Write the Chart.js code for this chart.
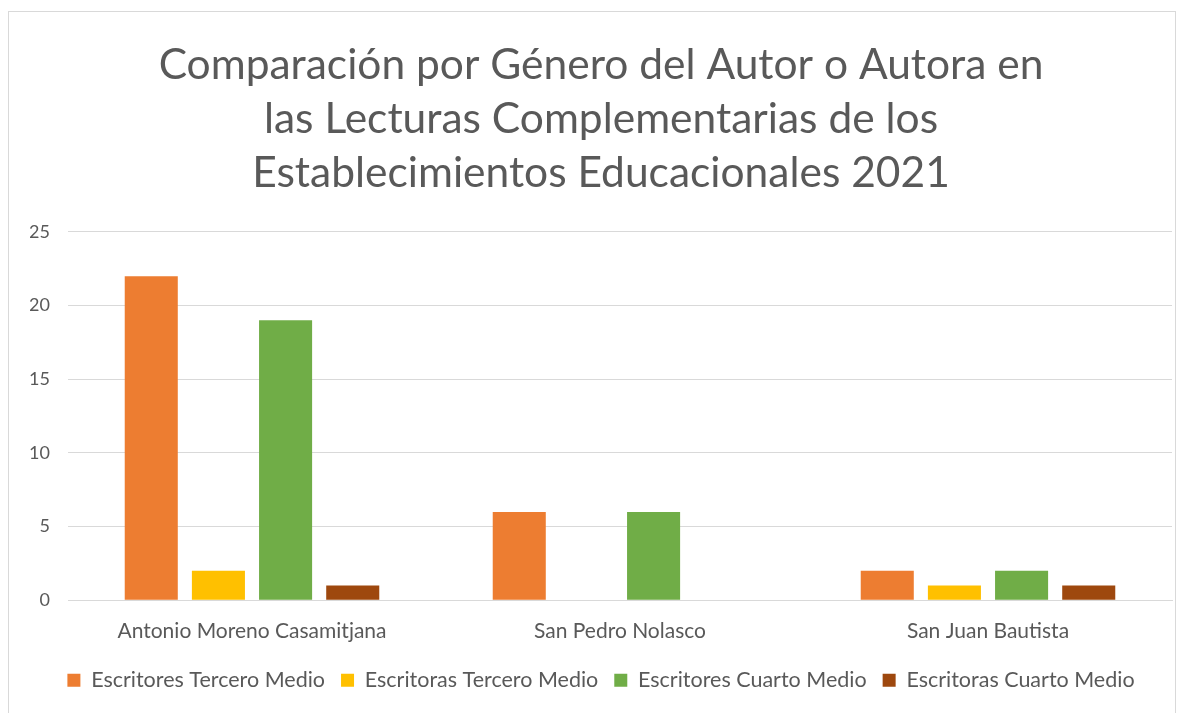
<!DOCTYPE html>
<html>
<head>
<meta charset="utf-8">
<script src="https://cdn.jsdelivr.net/npm/chart.js@4/dist/chart.umd.min.js"></script>
<style>
  html, body { margin: 0; padding: 0; background: #fff; overflow: hidden; }
  #box {
    position: absolute; left: 8px; top: 11px; width: 1168px; height: 710px;
    border: 1px solid #d9d9d9; box-sizing: border-box;
  }
  #canvas { display: block; }
</style>
</head>
<body>
<div id="box"><canvas id="canvas" width="1166" height="708"></canvas></div>
<script>
var schools = ["Antonio Moreno Casamitjana", "San Pedro Nolasco", "San Juan Bautista"];
var escritoresTercero = [22, 6, 2];
var escritorasTercero = [2, 0, 1];
var escritoresCuarto = [19, 6, 2];
var escritorasCuarto = [1, 0, 1];
var yTicks = [0, 5, 10, 15, 20, 25];

var grey = '#595959';
var font = "Lato, 'Open Sans', sans-serif";

function series(label, values, color) {
  return {
    label: label,
    data: values,
    backgroundColor: color,
    borderWidth: 0,
    categoryPercentage: 0.73,
    barPercentage: 0.79
  };
}

var ctx = document.getElementById('canvas');

var chart = new Chart(ctx, {
  type: 'bar',
  data: {
    labels: schools,
    datasets: [
      series('Escritores Tercero Medio', escritoresTercero, '#ED7D31'),
      series('Escritoras Tercero Medio', escritorasTercero, '#FFC000'),
      series('Escritores Cuarto Medio', escritoresCuarto, '#70AD47'),
      series('Escritoras Cuarto Medio', escritorasCuarto, '#9E480E')
    ]
  },
  options: {
    responsive: false,
    animation: false,
    layout: { padding: { left: 21, right: 3, top: 0, bottom: 19 } },
    plugins: {
      title: {
        display: true,
        text: ['Comparación por Género del Autor o Autora en',
               'las Lecturas Complementarias de los',
               'Establecimientos Educacionales 2021'],
        color: grey,
        font: { family: font, size: 42.5, weight: 'normal', lineHeight: 1.27 },
        padding: { top: 26, bottom: 32 }
      },
      legend: {
        position: 'bottom',
        labels: {
          color: grey,
          font: { family: font, size: 21.5 },
          boxWidth: 13,
          boxHeight: 13,
          padding: 16
        }
      },
      tooltip: { enabled: false }
    },
    scales: {
      x: {
        grid: { display: false },
        border: { color: '#d9d9d9', width: 1 },
        ticks: { color: grey, font: { family: font, size: 21 }, padding: 10 }
      },
      y: {
        min: yTicks[0],
        max: yTicks[yTicks.length - 1],
        afterFit: function (axis) { axis.width = 38; },
        grid: { color: '#d9d9d9', drawTicks: false },
        border: { display: false },
        ticks: {
          stepSize: yTicks[1] - yTicks[0],
          color: grey,
          font: { family: font, size: 18 },
          padding: 18
        }
      }
    }
  }
});
</script>
</body>
</html>
